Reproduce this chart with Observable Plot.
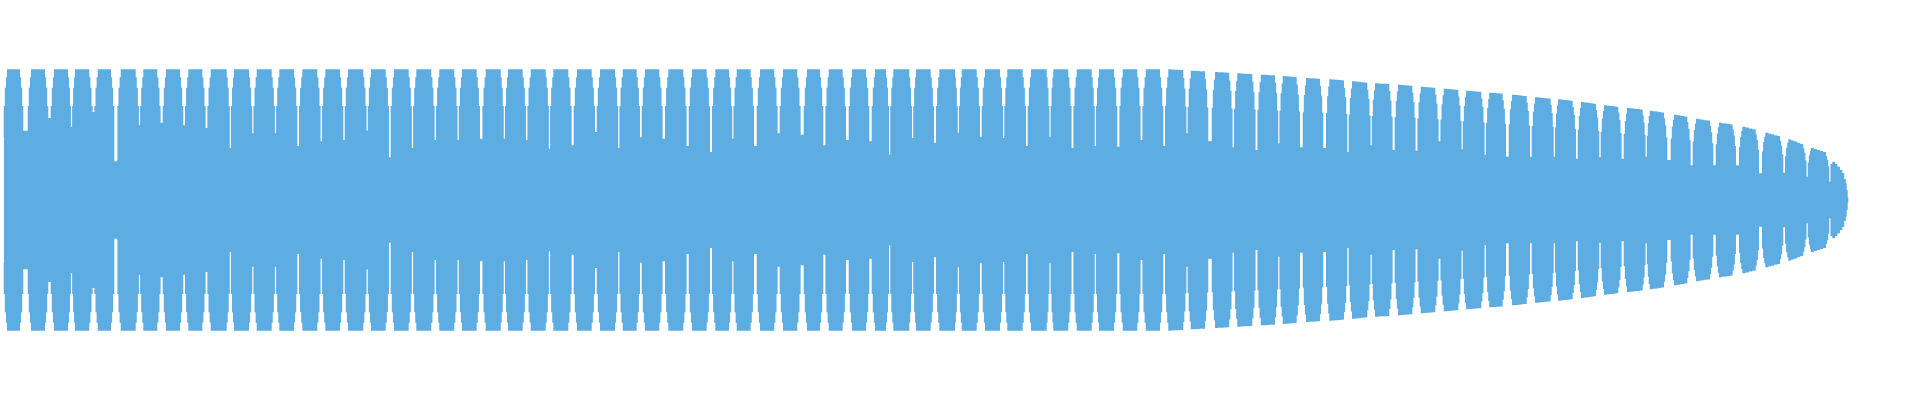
<!DOCTYPE html>
<html>
<head>
<meta charset="utf-8">
<script src="https://cdn.jsdelivr.net/npm/d3@7"></script>
<script src="https://cdn.jsdelivr.net/npm/@observablehq/plot@0.6"></script>
<style>
  html, body { margin: 0; padding: 0; background: #fff; }
  #chart svg { display: block; }
</style>
</head>
<body>
<div id="chart"></div>
<script>
// Waveform envelope: one entry per lobe (flat-top start / end,
// peak amplitude) and the depth of the notch that follows each lobe.
const lobeStart = [7,31,54,75,97.7,120.7,143.3,166,188.3,210.7,234,256.7,279.3,302.3,325.3,348,371,394,416.3,439.3,462,485.7,508,530.7,553.3,577,600,622.7,645,668.3,692,715.3,736.7,760,783,807,828.7,852,875,893.3,916,939.3,961.7,985,1007.3,1031,1053.3,1076.7,1099,1122.7,1145.7,1168.3,1190.7,1215,1237.3,1260.7,1282.7,1306,1329.3,1352,1375,1398,1420.7,1443.7,1466,1489.3,1512,1535,1558,1581,1604,1627,1649.7,1674,1696,1719,1742.3,1765.3,1788.3,1811];
const lobeEnd = [20,45,68,89.3,111,135.7,157.3,180,202.3,226.7,249,271.7,294,317.3,340,363.3,385.7,408.7,431.3,454.3,476.7,500.7,522.7,545.7,568.3,591.7,615,636.7,659.3,683.3,706.7,729,750.7,774.3,797.3,820,842.7,866,886,909.3,930.7,955,976.7,1000,1022.7,1046.7,1068.3,1091.7,1114,1137.3,1160,1183.3,1205,1229.3,1252.3,1275,1296.7,1320,1344,1367.3,1389.3,1412.3,1435.3,1458.3,1481.3,1502.7,1526.7,1550.7,1572.7,1596,1618.3,1642.7,1664,1687.3,1710,1732.7,1755.7,1780,1803.3,1826];
const lobeAmp = [0.98,0.98,0.98,0.98,0.98,0.98,0.98,0.98,0.98,0.98,0.98,0.98,0.98,0.98,0.98,0.98,0.98,0.98,0.98,0.98,0.98,0.98,0.98,0.98,0.98,0.98,0.98,0.98,0.98,0.98,0.98,0.98,0.98,0.98,0.98,0.98,0.98,0.98,0.98,0.98,0.98,0.98,0.98,0.98,0.98,0.98,0.98,0.98,0.98,0.98,0.98,0.98,0.97,0.96,0.95,0.94,0.93,0.915,0.905,0.89,0.875,0.865,0.85,0.835,0.82,0.805,0.79,0.77,0.755,0.735,0.71,0.69,0.67,0.64,0.61,0.58,0.55,0.505,0.455,0.39];
const notchAmp = [0.52,0.615,0.55,0.66,0.29,0.56,0.58,0.56,0.54,0.39,0.50,0.50,0.405,0.44,0.45,0.52,0.32,0.39,0.45,0.45,0.46,0.46,0.45,0.385,0.41,0.51,0.39,0.47,0.46,0.405,0.36,0.46,0.405,0.50,0.49,0.41,0.45,0.44,0.34,0.465,0.43,0.505,0.475,0.465,0.405,0.475,0.39,0.405,0.40,0.45,0.405,0.50,0.44,0.395,0.375,0.425,0.395,0.39,0.36,0.41,0.375,0.37,0.44,0.38,0.34,0.325,0.325,0.325,0.31,0.32,0.31,0.325,0.30,0.26,0.26,0.26,0.20,0.205,0.175,0.137];
// lead-in at the very start and the rounded tail at the end
const leadX = [4];
const leadAmp = [0.47];
const tailX = [1830.5,1832.3,1835,1837.3,1840,1842.3,1844.3,1845.7,1846.7,1847.7,1848.3];
const tailAmp = [0.27,0.287,0.27,0.25,0.225,0.2,0.157,0.125,0.075,0.02,0];
// shoulder profile of a lobe (fraction of its peak, from the notch up to the flat top)
const shoulder = [0.72, 0.86, 0.94];

// Build the envelope table (step-after curve)
const env = [];
leadX.forEach((x, i) => env.push({x, a: leadAmp[i]}));
const n = lobeStart.length;
const ns = shoulder.length;
for (let i = 0; i < n; i++) {
  const a = lobeStart[i], b = lobeEnd[i], T = lobeAmp[i];
  const prevB = i > 0 ? lobeEnd[i - 1] : a - 8;
  const nextA = i + 1 < n ? lobeStart[i + 1] : b + 8;
  const Tn = i + 1 < n ? lobeAmp[i + 1] : T * 0.85;
  const Tb = T + (Tn - T) * (b - a) / (nextA - a);
  const wl = Math.min(3.3, (a - prevB - 1.2) / 2);
  const wr = Math.min(3.3, (nextA - b - 1.2) / 2);
  for (let k = 0; k < ns; k++) env.push({x: a - wl * (ns - k) / ns, a: shoulder[k] * T});
  const steps = Math.max(1, Math.round((b - a) / 3));
  for (let k = 0; k < steps; k++) {
    env.push({x: a + (b - a) * k / steps, a: T + (Tb - T) * k / steps});
  }
  for (let k = 0; k < ns; k++) env.push({x: b + wr * k / ns, a: shoulder[ns - 1 - k] * Tb});
  env.push({x: b + wr, a: notchAmp[i]});
}
tailX.forEach((x, i) => env.push({x, a: tailAmp[i]}));

const chart = Plot.plot({
  width: 1920,
  height: 400,
  margin: 0,
  x: {domain: [0, 1920], axis: null},
  y: {domain: [-1.5, 1.5], axis: null},
  marks: [
    Plot.areaY(env, {x: "x", y1: d => -d.a, y2: d => d.a, curve: "step-after", fill: "#5dade2"})
  ]
});
document.getElementById("chart").appendChild(chart);
</script>
</body>
</html>
